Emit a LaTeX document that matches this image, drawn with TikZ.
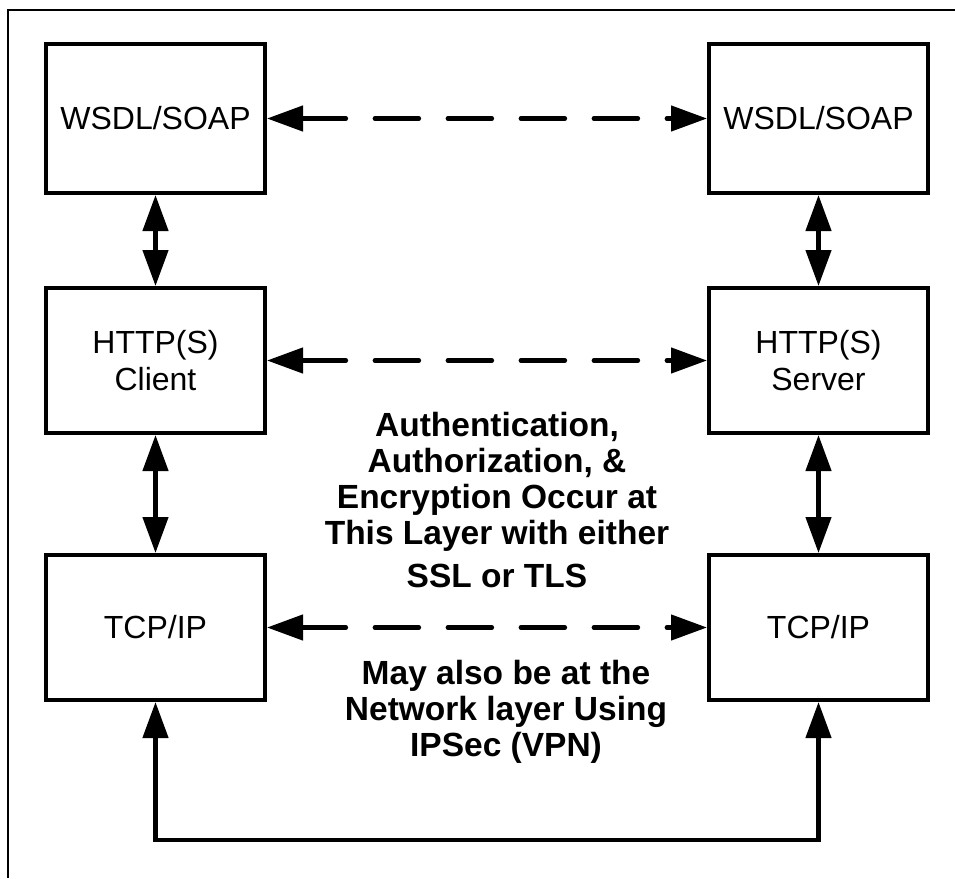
\documentclass[tikz,border=0pt]{standalone}
\usepackage{fontspec}
\setmainfont{Liberation Sans}
\usetikzlibrary{arrows.meta}
\tikzset{
  layerbox/.style={draw, line width=4pt, minimum width=219pt, inner sep=0pt,
    align=center, font=\fontsize{32}{37}\selectfont},
  conn/.style={line width=4.5pt, {Triangle[length=36pt,width=25pt]}-{Triangle[length=36pt,width=25pt]}},
  dconn/.style={conn, line cap=round, dash pattern=on 44pt off 29pt},
  note/.style={align=center, inner sep=0pt, font=\bfseries\fontsize{33.5}{36}\selectfont},
}
\begin{document}
\begin{tikzpicture}[x=1pt,y=-1pt]
\useasboundingbox (0,0) rectangle (955,878);
\draw[line width=2pt] (8,878) -- (8,10) -- (955,10);

\node[layerbox, minimum height=149pt] (wsdlL) at (155.5,118.5) {WSDL/SOAP};
\node[layerbox, minimum height=149pt] (wsdlR) at (818.5,118.5) {WSDL/SOAP};
\node[layerbox, minimum height=145pt] (httpL) at (155.5,360.5) {HTTP(S)\\Client};
\node[layerbox, minimum height=145pt] (httpR) at (818.5,360.5) {HTTP(S)\\Server};
\node[layerbox, minimum height=145pt] (tcpL) at (155.5,627.5) {TCP/IP};
\node[layerbox, minimum height=145pt] (tcpR) at (818.5,627.5) {TCP/IP};

\node[note] (auth) at (497,500.5) {Authentication,\\Authorization, \&\\Encryption Occur at\\This Layer with either\\[7pt]SSL or TLS};
\node[note] (ipsec) at (506,712) {May also be at the\\Network layer Using\\IPSec (VPN)};

\draw[dconn] (wsdlL) -- (wsdlR);
\draw[dconn] (httpL) -- (httpR);
\draw[dconn] (tcpL) -- (tcpR);

\draw[conn] (wsdlL) -- (httpL);
\draw[conn] (httpL) -- (tcpL);
\draw[conn] (wsdlR) -- (httpR);
\draw[conn] (httpR) -- (tcpR);

\coordinate (bl) at (155.5,840);
\draw[conn, line join=miter] (tcpL.south) -- (bl) -| (tcpR.south);
\end{tikzpicture}
\end{document}
